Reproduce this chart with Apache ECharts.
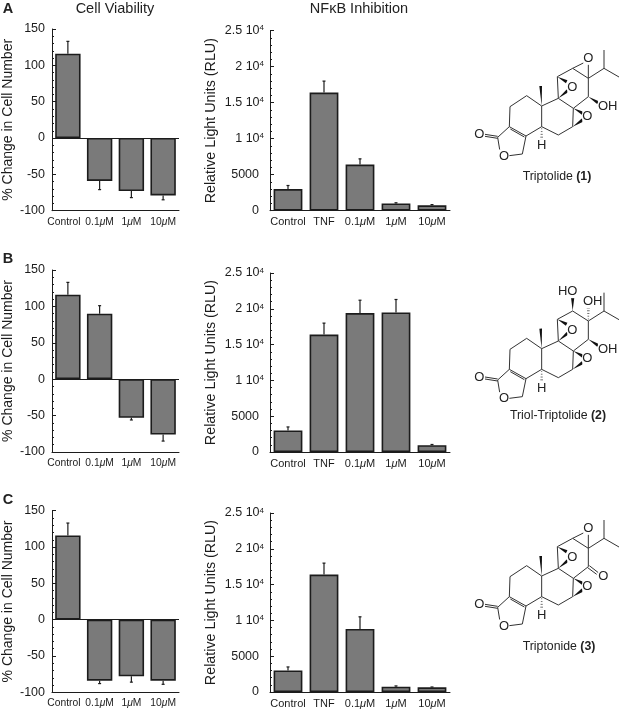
<!DOCTYPE html>
<html><head><meta charset="utf-8">
<style>html,body{margin:0;padding:0;background:#fff}#c{width:620px;height:709px}</style>
<script src="https://cdn.jsdelivr.net/npm/echarts@6/dist/echarts.min.js"></script>
</head><body><div id="c"></div>
<script>
const viabilityCats = ['{c|Control}','0.1{m|μ}M','1{m|μ}M','10{m|μ}M'];
const nfkbCats = ['Control','TNF','0.1{m|μ}M','1{m|μ}M','10{m|μ}M'];
const viabA = [116,-59,-73,-79];
const viabAErr = [133,-71,-82,-85];
const viabB = [116,90,-53,-76];
const viabBErr = [133,101,-56,-85];
const viabC = [116,-84,-78,-84];
const viabCErr = [133,-88,-86,-89];
const nfkbA = [3000,16400,6400,1000,750];
const nfkbAErr = [3500,18000,7200,1100,850];
const nfkbB = [3000,16400,19400,19500,950];
const nfkbBErr = [3500,18000,21200,21300,1050];
const nfkbC = [3000,16400,8800,750,650];
const nfkbCErr = [3500,18000,10500,850,700];
const nfkbTicks = {0:'{p|0}',5000:'{p|5000}',10000:'1 10{s|4}',15000:'1.5 10{s|4}',20000:'2 10{s|4}',25000:'2.5 10{s|4}'};

const INK='#1c1c1c', FILL='#7a7a7a', FONT='"Liberation Sans",Arial,sans-serif';
const grids=[],xAxes=[],yAxes=[],series=[];

function addChart(left,width,top,height,cats,vals,errs,isViab){
  const i=grids.length;
  grids.push({left,width,top,height});
  const catSize=isViab?10.3:11;
  xAxes.push({gridIndex:i,type:'category',data:cats,
    axisLine:{onZero:false,lineStyle:{color:INK,width:1}},
    axisTick:{inside:true,length:4,lineStyle:{color:INK}},
    axisLabel:{color:INK,fontSize:catSize,fontFamily:FONT,margin:6,interval:0,hideOverlap:false,
      rich:{m:{fontStyle:'italic',fontSize:catSize,fontFamily:FONT,color:INK},
            c:{fontSize:catSize,fontFamily:FONT,color:INK,padding:[0,8,0,0]}}}});
  yAxes.push(Object.assign({gridIndex:i,type:'value',
    name:isViab?'% Change in Cell Number':'Relative Light Units (RLU)',
    nameLocation:'middle',nameGap:isViab?37:52,
    nameTextStyle:{color:INK,fontSize:isViab?14:14.3,fontFamily:FONT},
    splitLine:{show:false},
    axisLine:{show:true,lineStyle:{color:INK,width:1}},
    axisTick:{show:true,inside:true,length:4,lineStyle:{color:INK}},
    minorTick:{show:true,splitNumber:5,length:2,lineStyle:{color:INK}},
    axisLabel:{color:INK,fontSize:12.5,fontFamily:FONT,margin:7}},
    isViab?{min:-100,max:150,interval:50}:{min:0,max:25000,interval:5000,
      axisLabel:{color:INK,fontSize:12.5,fontFamily:FONT,margin:6,
        formatter:v=>nfkbTicks[v],rich:{
          s:{fontSize:8,verticalAlign:'top',padding:[0,0,5,0],color:INK,fontFamily:FONT},
          p:{fontSize:12.5,color:INK,fontFamily:FONT,padding:[0,5,0,0]}}}}));
  series.push({type:'bar',xAxisIndex:i,yAxisIndex:i,data:vals,barWidth:'80%',silent:true,
    itemStyle:{color:FILL,borderColor:INK,borderWidth:1.6},
    markLine:isViab?{silent:true,symbol:'none',label:{show:false},lineStyle:{color:INK,width:1,type:'solid'},data:[{yAxis:0}]}:undefined,
    animation:false});
  series.push({type:'custom',xAxisIndex:i,yAxisIndex:i,silent:true,animation:false,
    data:vals.map((v,k)=>[k,v,errs[k]]),
    z:1,
    renderItem:(p,api)=>{
      const a=api.coord([api.value(0),api.value(1)]),b=api.coord([api.value(0),api.value(2)]);
      const st={stroke:INK,lineWidth:1.2};
      return {type:'group',children:[
        {type:'line',shape:{x1:a[0],y1:a[1],x2:b[0],y2:b[1]},style:st},
        {type:'line',shape:{x1:a[0]-1.5,y1:b[1],x2:a[0]+1.5,y2:b[1]},style:st}]};
    }});
}
addChart(51.5,127.5,29,181.7,viabilityCats,viabA,viabAErr,true);
addChart(270,180,30.7,180,nfkbCats,nfkbA,nfkbAErr,false);
addChart(51.5,127.5,270,182,viabilityCats,viabB,viabBErr,true);
addChart(270,180,273,179,nfkbCats,nfkbB,nfkbBErr,false);
addChart(51.5,127.5,510.7,181.6,viabilityCats,viabC,viabCErr,true);
addChart(270,180,513,179.3,nfkbCats,nfkbC,nfkbCErr,false);

/* Structure drawings: coordinates in a crop-local space, scaled by 1/3 */
function core(d1){
  return {c:[143,322+d1],o:[105,316+d1],d:[178,290+d1],e:[228,318+d1],f:[217,372+d1],g:[178,377+d1],h:[150,365+d1],
    a1:[180,230+d1],a2:[230,197+d1],j:[275,228+d1],k:[275,290+d1],m:[325,205+d1],n:[370,235+d1],q:[368,290+d1],r:[325,315+d1],
    u:[322,140+d1],v:[368,115+d1],w:[415,145+d1],x:[415,200+d1]};
}
function molecule(ox,oy,d,extra){
  const P=core(d);const L=[];
  const seg=(a,b)=>L.push([a[0],a[1],b[0],b[1]]);
  [['c','h'],['g','f'],['f','e'],['c','d'],['d','e'],['d','a1'],['a1','a2'],['a2','j'],['j','k'],['k','e'],
   ['j','m'],['m','n'],['n','q'],['q','r'],['r','k'],['m','u'],['u','v'],['v','w'],['w','x'],['x','n']].forEach(s=>seg(P[s[0]],P[s[1]]));
  L.push([P.c[0],P.c[1]-3,P.o[0],P.o[1]-3],[P.c[0],P.c[1]+3,P.o[0],P.o[1]+3]);
  L.push([P.d[0]+3,P.d[1]+7,P.e[0]-5,P.e[1]+3]);
  const w=P.w,iso=[w[0]+47,w[1]-30];
  seg(w,iso);seg(iso,[iso[0],iso[1]-55]);seg(iso,[iso[0]+45,iso[1]+26]);
  const wedges=[[P.j,[272,168+d],4],[P.m,[353,182+d],5],[P.u,[350,155+d],5],[P.n,[398,250+d],5],[P.q,[398,270+d],5]];
  const hashes=[[P.k,[275,332+d]]];
  const texts=[['O',88,314+d],['O',162,378+d],['O',367,172+d],['O',412,258+d],['H',275,347+d]];
  extra(P,L,wedges,hashes,texts);
  const out=[],S=1/3;
  const tx=x=>ox+x*S, ty=y=>oy+y*S;
  L.forEach(l=>out.push({type:'line',silent:true,shape:{x1:tx(l[0]),y1:ty(l[1]),x2:tx(l[2]),y2:ty(l[3])},style:{stroke:'#333',lineWidth:1}}));
  wedges.forEach(([a,b,wd])=>{
    const dx=b[0]-a[0],dy=b[1]-a[1],n=Math.hypot(dx,dy),px=-dy/n*wd,py=dx/n*wd;
    out.push({type:'polygon',silent:true,shape:{points:[[tx(a[0]),ty(a[1])],[tx(b[0]+px),ty(b[1]+py)],[tx(b[0]-px),ty(b[1]-py)]]},style:{fill:'#111'}});
  });
  hashes.forEach(([a,b])=>{
    for(let t=0.15;t<=1;t+=0.2){
      const x=a[0]+(b[0]-a[0])*t,y=a[1]+(b[1]-a[1])*t,hw=1+t*4;
      const dx=b[0]-a[0],dy=b[1]-a[1],n=Math.hypot(dx,dy),px=-dy/n*hw,py=dx/n*hw;
      out.push({type:'line',silent:true,shape:{x1:tx(x+px),y1:ty(y+py),x2:tx(x-px),y2:ty(y-py)},style:{stroke:'#333',lineWidth:0.7}});
    }
  });
  texts.forEach(t=>out.push({type:'text',silent:true,x:tx(t[1]),y:ty(t[2]),z:5,
    style:{text:t[0],font:'13px '+FONT,fill:'#222',align:'center',verticalAlign:'middle',backgroundColor:'#fff'}}));
  return out;
}
const mol1=molecule(450,30,0,(P,L,W,H,T)=>{
  T.push(['O',415,85],['OH',473,230]);
  L.push([P.v[0],P.v[1],402,98],[P.w[0],P.w[1],415,100]);
  W.push([P.x,[444,218],5]);
});
const mol2=molecule(450,270,8,(P,L,W,H,T)=>{
  T.push(['HO',353,65],['OH',428,95],['OH',473,238]);
  W.push([P.v,[368,82],5],[P.x,[444,226],5]);
  H.push([P.w,[415,112]]);
});
const mol3=molecule(450,510,-30,(P,L,W,H,T)=>{
  T.push(['O',415,55],['O',460,198]);
  L.push([P.v[0],P.v[1],402,68],[P.w[0],P.w[1],415,70]);
  L.push([P.x[0]+3,P.x[1]-3,445,188],[P.x[0]-2,P.x[1]+3,440,193]);
});

const label=(text,x,y,font)=>({type:'text',silent:true,x,y,
  style:{text,font:font,fill:'#222',align:'center',verticalAlign:'middle'}});
const nameStyle={b:{font:'bold 12.3px '+FONT,fill:'#222'},n:{font:'12.3px '+FONT,fill:'#222'}};
const nameLabel=(text,x,y)=>({type:'text',silent:true,x,y,style:{rich:nameStyle,text,align:'center',verticalAlign:'middle'}});
const graphics=[
  label('Cell Viability',115,9,'14.5px '+FONT),
  label('NFκB Inhibition',359,9,'14.5px '+FONT),
  label('A',8,9,'bold 14.5px '+FONT),
  label('B',8,259,'bold 14.5px '+FONT),
  label('C',8,500,'bold 14.5px '+FONT),
  nameLabel('{n|Triptolide }{b|(1)}',557,177),
  nameLabel('{n|Triol-Triptolide }{b|(2)}',558,416),
  nameLabel('{n|Triptonide }{b|(3)}',559,647),
  ...mol1,...mol2,...mol3
];
const chart=echarts.init(document.getElementById('c'),null,{renderer:'canvas'});
chart.setOption({animation:false,backgroundColor:'#fff',tooltip:{show:false},grid:grids,xAxis:xAxes,yAxis:yAxes,series,graphic:{elements:graphics}});
</script></body></html>
